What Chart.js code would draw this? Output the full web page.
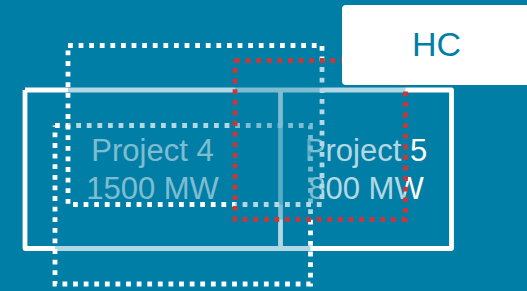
<!DOCTYPE html>
<html>
<head>
<meta charset="utf-8">
<script src="https://cdn.jsdelivr.net/npm/chart.js@4.4.1/dist/chart.umd.min.js"></script>
<style>
  html, body { margin: 0; padding: 0; }
  body { width: 527px; height: 291px; background: rgb(0,126,166); overflow: hidden; position: relative;
         font-family: "Liberation Sans", Arial, Helvetica, sans-serif; }
  .lbl { position: absolute; color: #ffffff; font-size: 31px; line-height: 38px; text-align: center; white-space: nowrap; z-index: 0; }
  #wrap { position: absolute; left: 0; top: 0; width: 527px; height: 291px; z-index: 1; }
  #hc { position: absolute; left: 342px; top: 5px; width: 200px; height: 80px; background: #ffffff;
        border-radius: 4px; z-index: 2; color: rgb(0,126,166); font-size: 34px; line-height: 80px; }
  #hc span { position: absolute; left: 70px; top: -1px; }
</style>
</head>
<body>
<script>
// ---- data (diagram units = chart axis units) ----
const projectNames = ['Project 4', 'Project 5'];
const projectCapacity = ['1500 MW', '800 MW'];
const projectBlock = [25, 90, 451.5, 248.5];     // [x1, y1, x2, y2] outer block
const projectDivider = 280.5;                    // x of split between projects
const zoneA = [68, 45.5, 322, 204.5];            // white dotted zone (upper)
const zoneB = [55, 125.5, 310.5, 284];           // white dotted zone (lower)
const zoneRed = [235, 60.5, 405.5, 219.5];       // red dotted zone
const boxLabel = 'HC';
const axisX = [0, 527];
const axisY = [0, 291];
</script>

<div class="lbl" id="l4" style="left:25px; width:255px; top:132px;"></div>
<div class="lbl" id="l5" style="left:280px; width:172px; top:132px;"></div>
<div id="wrap"><canvas id="c" width="527" height="291"></canvas></div>
<div id="hc"><span id="hct"></span></div>

<script>
document.getElementById('l4').innerHTML = projectNames[0] + '<br>' + projectCapacity[0];
document.getElementById('l5').innerHTML = projectNames[1] + '<br>' + projectCapacity[1];
document.getElementById('hct').textContent = boxLabel;

function rectPath(r) {
  return [
    {x: r[0], y: r[1]}, {x: r[2], y: r[1]}, {x: r[2], y: r[3]}, {x: r[0], y: r[3]}, {x: r[0], y: r[1]}
  ];
}
const veil = 'rgba(0,126,166,0.3)';
const dotted = [4.8, 5.8];

new Chart(document.getElementById('c'), {
  type: 'line',
  data: {
    datasets: [
      { label: 'block', data: rectPath(projectBlock), borderColor: '#ffffff', borderWidth: 4.8,
        fill: false, borderJoinStyle: 'round', order: 5 },
      { label: 'divider', data: [{x: projectDivider, y: projectBlock[1]}, {x: projectDivider, y: projectBlock[3]}],
        borderColor: '#ffffff', borderWidth: 4.8, fill: false, order: 5 },
      { label: 'zone B', data: rectPath(zoneB), borderColor: '#ffffff', borderWidth: 4.8,
        borderDash: dotted, borderCapStyle: 'butt', fill: 'shape', backgroundColor: veil, order: 3 },
      { label: 'zone A', data: rectPath(zoneA), borderColor: '#ffffff', borderWidth: 4.8,
        borderDash: dotted, borderCapStyle: 'butt', fill: 'shape', backgroundColor: veil, order: 2 },
      { label: 'zone red', data: rectPath(zoneRed), borderColor: '#c9373b', borderWidth: 4.8,
        borderDash: dotted, borderCapStyle: 'butt', fill: 'shape', backgroundColor: veil, order: 1 }
    ]
  },
  options: {
    responsive: false,
    animation: false,
    devicePixelRatio: 1,
    layout: { padding: 0 },
    elements: { point: { radius: 0, hoverRadius: 0 }, line: { tension: 0 } },
    clip: false,
    scales: {
      x: { type: 'linear', min: axisX[0], max: axisX[1], display: false },
      y: { type: 'linear', min: axisY[0], max: axisY[1], reverse: true, display: false }
    },
    plugins: { legend: { display: false }, tooltip: { enabled: false } },
    events: []
  }
});
</script>
</body>
</html>
